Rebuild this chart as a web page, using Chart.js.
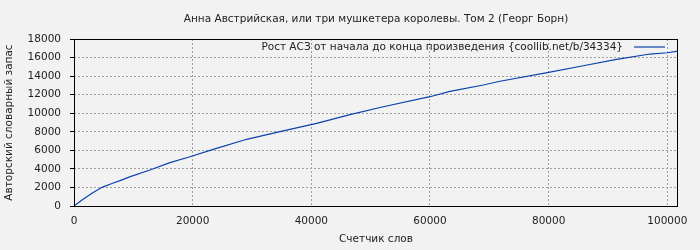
<!DOCTYPE html>
<html>
<head>
<meta charset="utf-8">
<script src="https://cdn.jsdelivr.net/npm/chart.js@4"></script>
<style>
  html, body { margin: 0; padding: 0; background: #f2f2f2; }
  #wrap { width: 700px; height: 250px; }
</style>
</head>
<body>
<div id="wrap"><canvas id="chart" width="700" height="250"></canvas></div>
<script>
// values
const chartTitle = "Анна Австрийская, или три мушкетера королевы. Том 2 (Георг Борн)";
const seriesLabel = "Рост АСЗ от начала до конца произведения {coollib.net/b/34334}";
const xTitle = "Счетчик слов";
const yTitle = "Авторский словарный запас";

const wordCount = [0, 1350, 3030, 4720, 6400, 8090, 9490, 12800, 16180, 19260, 23470, 29100,
    34710, 40890, 46520, 52130, 60000, 63370, 68990, 71800, 80000, 85840, 91460, 97080, 100000, 101800];
const vocabulary = [0, 650, 1370, 2010, 2420, 2820, 3160, 3880, 4670, 5250, 6110, 7190,
    8010, 8910, 9850, 10700, 11780, 12350, 13040, 13450, 14410, 15120, 15800, 16380, 16520, 16700];

const xTicks = [0, 20000, 40000, 60000, 80000, 100000];
const xMax = 101800;
const yMax = 18000;
const yStep = 2000;

const FONT = "DejaVu Sans";
const TEXT = "#222";
const LINE = "#0a42ad";

Chart.defaults.font.family = FONT;
Chart.defaults.font.size = 10.5;
Chart.defaults.color = TEXT;

// title over the plot, frame, and legend inside the plot
const framePlugin = {
    id: "frame",
    afterDraw(chart) {
        const ctx = chart.ctx;
        const a = chart.chartArea;
        ctx.save();
        ctx.font = "10.5px " + FONT;
        ctx.fillStyle = TEXT;
        ctx.textAlign = "center";
        ctx.textBaseline = "middle";
        ctx.fillText(chartTitle, (a.left + a.right) / 2, 19);

        ctx.strokeStyle = "#000";
        ctx.lineWidth = 1;
        ctx.setLineDash([]);
        ctx.strokeRect(Math.round(a.left) + 0.5, Math.round(a.top) + 0.5,
            Math.round(a.right - a.left) - 1, Math.round(a.bottom - a.top));

        // legend
        const ly = a.top + 8;
        ctx.textAlign = "right";
        ctx.fillText(chart.data.datasets[0].label, a.right - 55, ly);
        ctx.strokeStyle = LINE;
        ctx.lineWidth = 1.2;
        ctx.beginPath();
        ctx.moveTo(a.right - 44, ly);
        ctx.lineTo(a.right - 13, ly);
        ctx.stroke();
        ctx.restore();
    }
};

new Chart(document.getElementById("chart"), {
    type: "line",
    data: {
        datasets: [{
            label: seriesLabel,
            data: wordCount.map((x, i) => ({ x: x, y: vocabulary[i] })),
            borderColor: LINE,
            borderWidth: 1.2,
            pointRadius: 0,
            tension: 0,
            fill: false
        }]
    },
    options: {
        responsive: false,
        animation: false,
        layout: { padding: { left: 0, right: 22, top: 39, bottom: 0 } },
        plugins: {
            legend: { display: false },
            tooltip: { enabled: false },
            title: { display: false }
        },
        scales: {
            x: {
                type: "linear",
                min: 0,
                max: xMax,
                afterBuildTicks(scale) {
                    scale.ticks = xTicks.map(v => ({ value: v }));
                },
                afterFit(scale) { scale.height = 44; },
                ticks: {
                    padding: 9,
                    maxRotation: 0,
                    autoSkip: false,
                    callback: v => String(v)
                },
                grid: {
                    color: "#a0a0a0",
                    borderDash: [2, 2],
                    drawTicks: false
                },
                border: { display: false, dash: [2, 2] },
                title: {
                    display: true,
                    text: xTitle,
                    font: { size: 10.5 },
                    padding: { top: 0, bottom: 4 }
                }
            },
            y: {
                min: 0,
                max: yMax,
                afterFit(scale) { scale.width = 74; },
                ticks: {
                    stepSize: yStep,
                    padding: 9,
                    callback: v => String(v)
                },
                grid: {
                    color: "#a0a0a0",
                    tickLength: 4,
                    tickColor: "#000",
                    tickBorderDash: []
                },
                border: { display: false, dash: [2, 2] },
                title: {
                    display: true,
                    text: yTitle,
                    font: { size: 10.5 },
                    padding: { top: 3, bottom: 0 }
                }
            }
        }
    },
    plugins: [framePlugin]
});
</script>
</body>
</html>
